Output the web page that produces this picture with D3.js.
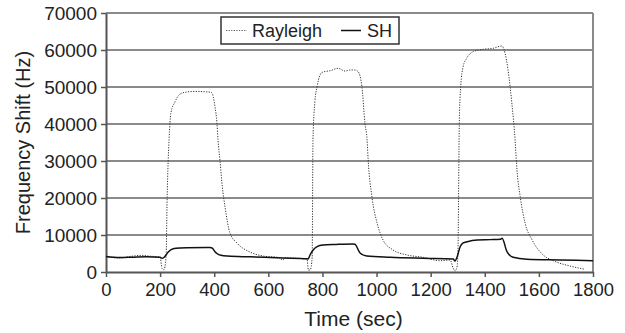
<!DOCTYPE html>
<html>
<head>
<meta charset="utf-8">
<script src="https://cdn.jsdelivr.net/npm/d3@7"></script>
<style>
  body { margin: 0; background: #fff; }
  svg text { font-family: "Liberation Sans", Arial, sans-serif; fill: #222; }
</style>
</head>
<body>
<svg id="chart" width="625" height="333"></svg>
<script>
// values (time in sec, shift in Hz)
const rayleigh_time = [0, 50, 100, 130, 160, 200, 207, 214, 222, 226, 233, 240, 255, 274, 299, 330, 370, 390, 403, 410, 414, 421, 430, 440, 458, 484, 532, 580, 640, 654, 660, 743, 748, 755, 762, 765, 772, 780, 791, 802, 828, 858, 884, 900, 920, 932, 946, 957, 965, 969, 983, 1002, 1024, 1061, 1113, 1172, 1235, 1272, 1283, 1290, 1298, 1301, 1306, 1311, 1320, 1333, 1357, 1394, 1431, 1463, 1475, 1486, 1500, 1512, 1519, 1531, 1549, 1575, 1616, 1653, 1715, 1771];
const rayleigh_hz = [4100, 3800, 4300, 4500, 4300, 4000, 1000, 600, 4000, 20000, 35700, 43000, 46000, 48100, 48650, 48800, 48700, 48500, 44600, 40270, 35700, 30270, 23000, 17570, 10540, 7840, 5400, 4320, 3900, 3200, 3800, 3500, 500, 600, 4000, 35700, 46000, 50000, 53240, 54050, 54400, 55050, 54300, 54600, 54600, 54140, 50000, 40270, 35700, 30270, 20270, 13240, 8650, 5950, 4600, 3970, 3050, 3240, 1080, 270, 1620, 5950, 41080, 50080, 55490, 57760, 59540, 60190, 60460, 61080, 59110, 54600, 45680, 35700, 27570, 20350, 13240, 8650, 4600, 3050, 1620, 730];

const sh_time = [0, 50, 100, 150, 200, 207, 215, 222, 230, 248, 275, 300, 385, 392, 403, 410, 425, 450, 532, 654, 743, 747, 754, 765, 780, 802, 850, 913, 920, 939, 964, 1050, 1172, 1283, 1290, 1298, 1309, 1320, 1335, 1372, 1420, 1457, 1464, 1482, 1505, 1556, 1678, 1800];
const sh_hz = [4200, 3900, 4000, 4100, 4000, 3700, 4000, 4600, 5400, 6300, 6500, 6550, 6600, 6500, 5500, 5000, 4500, 4300, 4100, 3800, 3600, 3500, 4600, 5900, 6840, 7300, 7450, 7570, 7490, 5140, 4320, 3970, 3700, 3510, 2970, 4140, 6840, 7840, 8190, 8650, 8750, 8840, 9100, 5490, 3970, 3430, 3240, 3050];

const x_ticks = [0, 200, 400, 600, 800, 1000, 1200, 1400, 1600, 1800];
const y_ticks = [0, 10000, 20000, 30000, 40000, 50000, 60000, 70000];

let svg = d3.select("#chart"),
  margin = {top: 13, right: 32, bottom: 61, left: 106},
  width = svg.attr("width") - margin.left - margin.right,
  height = svg.attr("height") - margin.top - margin.bottom;

let x = d3.scaleLinear().domain([0, 1800]).range([0, width]);
let y = d3.scaleLinear().domain([0, 70000]).range([height, 0]);

let g = svg.append("g")
           .attr("transform", "translate(" + margin.left + "," + margin.top + ")");

// horizontal grid lines
g.selectAll(".grid")
 .data(y_ticks.filter(d => d > 0))
 .enter().append("line")
 .attr("class", "grid")
 .attr("x1", 0).attr("x2", width)
 .attr("y1", d => y(d)).attr("y2", d => y(d))
 .attr("stroke", "#8a8a8a")
 .attr("stroke-width", 2);

// right border
g.append("line")
 .attr("x1", width).attr("x2", width)
 .attr("y1", 0).attr("y2", height)
 .attr("stroke", "#8a8a8a")
 .attr("stroke-width", 2);

// x axis
let xAxis = g.append("g")
 .attr("transform", "translate(0," + height + ")")
 .call(d3.axisBottom(x).tickValues(x_ticks).tickFormat(d3.format("d"))
         .tickSize(5).tickSizeOuter(0).tickPadding(6));
xAxis.select(".domain").attr("stroke", "#555").attr("stroke-width", 2);
xAxis.selectAll(".tick line").attr("stroke", "#555").attr("stroke-width", 1.5);
xAxis.selectAll("text").style("font-size", "18.5px").attr("fill", "#222");

// y axis
let yAxis = g.append("g")
 .call(d3.axisLeft(y).tickValues(y_ticks).tickFormat(d3.format("d"))
         .tickSize(5).tickSizeOuter(0).tickPadding(4));
yAxis.select(".domain").attr("stroke", "#555").attr("stroke-width", 2);
yAxis.selectAll(".tick line").attr("stroke", "#555").attr("stroke-width", 1.5);
yAxis.selectAll("text").style("font-size", "19px").attr("fill", "#222");

// axis titles
svg.append("text")
   .attr("x", margin.left + width / 2 + 4)
   .attr("y", 326)
   .attr("text-anchor", "middle")
   .style("font-size", "21px")
   .text("Time (sec)");

svg.append("text")
   .attr("transform", "translate(30," + (margin.top + height / 2) + ") rotate(-90)")
   .attr("text-anchor", "middle")
   .style("font-size", "20px")
   .text("Frequency Shift (Hz)");

let line = d3.line()
  .curve(d3.curveMonotoneX)
  .x(d => x(d[0]))
  .y(d => y(d[1]));

let rayleigh = rayleigh_time.map((t, i) => [t, rayleigh_hz[i]]);
let sh = sh_time.map((t, i) => [t, sh_hz[i]]);

g.append("path")
 .attr("d", line(rayleigh))
 .attr("fill", "none")
 .attr("stroke", "#333")
 .attr("stroke-width", 1)
 .attr("stroke-dasharray", "1.2,1.4");

g.append("path")
 .attr("d", line(sh))
 .attr("fill", "none")
 .attr("stroke", "#111")
 .attr("stroke-width", 1.5);

// legend
let legend = svg.append("g").attr("transform", "translate(221,17)");
legend.append("rect")
      .attr("width", 178).attr("height", 27)
      .attr("fill", "#fff")
      .attr("stroke", "#333")
      .attr("stroke-width", 1.5);
legend.append("line")
      .attr("x1", 5).attr("x2", 26).attr("y1", 13.5).attr("y2", 13.5)
      .attr("stroke", "#555").attr("stroke-width", 1)
      .attr("stroke-dasharray", "1.2,1.4");
legend.append("text")
      .attr("x", 31).attr("y", 20)
      .style("font-size", "18px")
      .text("Rayleigh");
legend.append("line")
      .attr("x1", 120).attr("x2", 140).attr("y1", 13.5).attr("y2", 13.5)
      .attr("stroke", "#111").attr("stroke-width", 1.5);
legend.append("text")
      .attr("x", 146).attr("y", 20)
      .style("font-size", "18px")
      .text("SH");
</script>
</body>
</html>
